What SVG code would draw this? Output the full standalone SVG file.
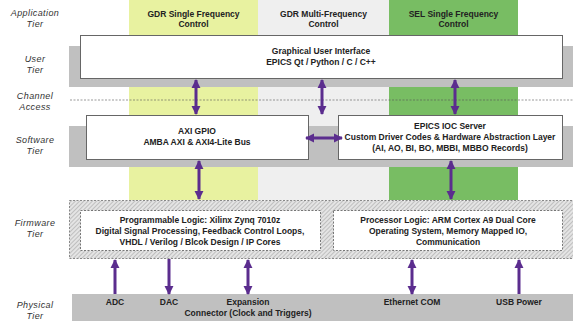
<svg xmlns="http://www.w3.org/2000/svg" width="573" height="321" viewBox="0 0 573 321">
<defs>
<style>
.tier{font-family:"Liberation Sans",Arial,sans-serif;font-size:9px;font-style:italic;fill:#333;text-anchor:middle;letter-spacing:0.4px}
.t{font-family:"Liberation Sans",Arial,sans-serif;font-size:8.5px;font-weight:bold;fill:#222;text-anchor:middle}
.box{fill:#fff;stroke:#666;stroke-width:1}
.dbox{fill:#fff;stroke:#777;stroke-width:1;stroke-dasharray:2,1.5}
.band{fill:#c0c0c0}
.ar{stroke:#5b2d8e;stroke-width:3;fill:none}
</style>
<marker id="ah" viewBox="0 0 10 10" refX="9" refY="5" markerWidth="3.1" markerHeight="3.1" orient="auto-start-reverse" markerUnits="strokeWidth">
<path d="M0,0 L10,5 L0,10 z" fill="#5b2d8e"/>
</marker>
<pattern id="hatch" width="3" height="3" patternUnits="userSpaceOnUse" patternTransform="rotate(45)">
<rect width="3" height="3" fill="#e4e4e4"/>
<line x1="0" y1="0" x2="0" y2="3" stroke="#9a9a9a" stroke-width="1"/>
</pattern>
</defs>
<rect width="573" height="321" fill="#fff"/>
<g id="columns">
<rect x="129" y="0" width="129" height="200" fill="#e8f2a0"/>
<rect x="258" y="0" width="131" height="200" fill="#efefef"/>
<rect x="389" y="0" width="129" height="200" fill="#78bd63"/>
<text class="t" x="193.5" y="17">GDR Single Frequency</text>
<text class="t" x="193.5" y="27">Control</text>
<text class="t" x="323.5" y="17">GDR Multi-Frequency</text>
<text class="t" x="323.5" y="27">Control</text>
<text class="t" x="453.5" y="17">SEL Single Frequency</text>
<text class="t" x="453.5" y="27">Control</text>
</g>
<g id="tiers">
<text class="tier" x="35" y="16">Application</text>
<text class="tier" x="35" y="27">Tier</text>
<text class="tier" x="35" y="62">User</text>
<text class="tier" x="35" y="73">Tier</text>
<text class="tier" x="35" y="99">Channel</text>
<text class="tier" x="35" y="110">Access</text>
<text class="tier" x="35" y="143">Software</text>
<text class="tier" x="35" y="154">Tier</text>
<text class="tier" x="35" y="226">Firmware</text>
<text class="tier" x="35" y="237">Tier</text>
<text class="tier" x="35" y="308">Physical</text>
<text class="tier" x="35" y="319">Tier</text>
</g>
<g id="bands">
<rect class="band" x="69" y="46" width="504" height="41"/>
<line x1="70" y1="100" x2="573" y2="100" stroke="#555" stroke-width="0.6" stroke-dasharray="2,1.5"/>
<rect class="band" x="69" y="126" width="504" height="41"/>
<rect x="69.5" y="200.5" width="504" height="58" fill="url(#hatch)" stroke="#888" stroke-width="1" stroke-dasharray="2,1.5"/>
<rect class="band" x="72" y="294" width="501" height="27"/>
</g>
<g id="gui">
<rect class="box" x="80.5" y="35.5" width="482" height="43"/>
<text class="t" x="321" y="54">Graphical User Interface</text>
<text class="t" x="321" y="65">EPICS Qt / Python / C / C++</text>
</g>
<g id="axi">
<rect class="box" x="86.5" y="115.5" width="222" height="44"/>
<text class="t" x="197" y="134">AXI GPIO</text>
<text class="t" x="197" y="145">AMBA AXI &amp; AXI4-Lite Bus</text>
</g>
<g id="ioc">
<rect class="box" x="338.5" y="115.5" width="224" height="44"/>
<text class="t" x="450" y="129">EPICS IOC Server</text>
<text class="t" x="450" y="140">Custom Driver Codes &amp; Hardware Abstraction Layer</text>
<text class="t" x="450" y="151">(AI, AO, BI, BO, MBBI, MBBO Records)</text>
</g>
<g id="pl">
<rect class="dbox" x="80.5" y="210.5" width="240" height="40"/>
<text class="t" x="200" y="223">Programmable Logic: Xilinx Zynq 7010z</text>
<text class="t" x="200" y="234">Digital Signal Processing, Feedback Control Loops,</text>
<text class="t" x="200" y="245">VHDL / Verilog / Blcok Design / IP Cores</text>
</g>
<g id="ps">
<rect class="dbox" x="333.5" y="210.5" width="229" height="40"/>
<text class="t" x="448" y="223">Processor Logic: ARM Cortex A9 Dual Core</text>
<text class="t" x="448" y="234">Operating System, Memory Mapped IO,</text>
<text class="t" x="448" y="245">Communication</text>
</g>
<g id="physical">
<text class="t" x="115" y="305">ADC</text>
<text class="t" x="169" y="305">DAC</text>
<text class="t" x="248" y="305">Expansion</text>
<text class="t" x="248" y="316">Connector (Clock and Triggers)</text>
<text class="t" x="412" y="305">Ethernet COM</text>
<text class="t" x="519" y="305">USB Power</text>
</g>
<g id="connectors">
<line class="ar" x1="196" y1="80" x2="196" y2="114" marker-start="url(#ah)" marker-end="url(#ah)"/>
<line class="ar" x1="322" y1="80" x2="322" y2="114" marker-start="url(#ah)" marker-end="url(#ah)"/>
<line class="ar" x1="455" y1="80" x2="455" y2="114" marker-start="url(#ah)" marker-end="url(#ah)"/>
<line class="ar" x1="199" y1="161" x2="199" y2="199" marker-start="url(#ah)" marker-end="url(#ah)"/>
<line class="ar" x1="451" y1="161" x2="451" y2="199" marker-start="url(#ah)" marker-end="url(#ah)"/>
<line class="ar" x1="306" y1="138" x2="342" y2="138" marker-start="url(#ah)" marker-end="url(#ah)"/>
<line class="ar" x1="115" y1="294" x2="115" y2="260" marker-end="url(#ah)"/>
<line class="ar" x1="169" y1="259" x2="169" y2="294" marker-end="url(#ah)"/>
<line class="ar" x1="248" y1="260" x2="248" y2="294" marker-start="url(#ah)" marker-end="url(#ah)"/>
<line class="ar" x1="412" y1="260" x2="412" y2="294" marker-start="url(#ah)" marker-end="url(#ah)"/>
<line class="ar" x1="519" y1="294" x2="519" y2="260" marker-end="url(#ah)"/>
</g>
</svg>
